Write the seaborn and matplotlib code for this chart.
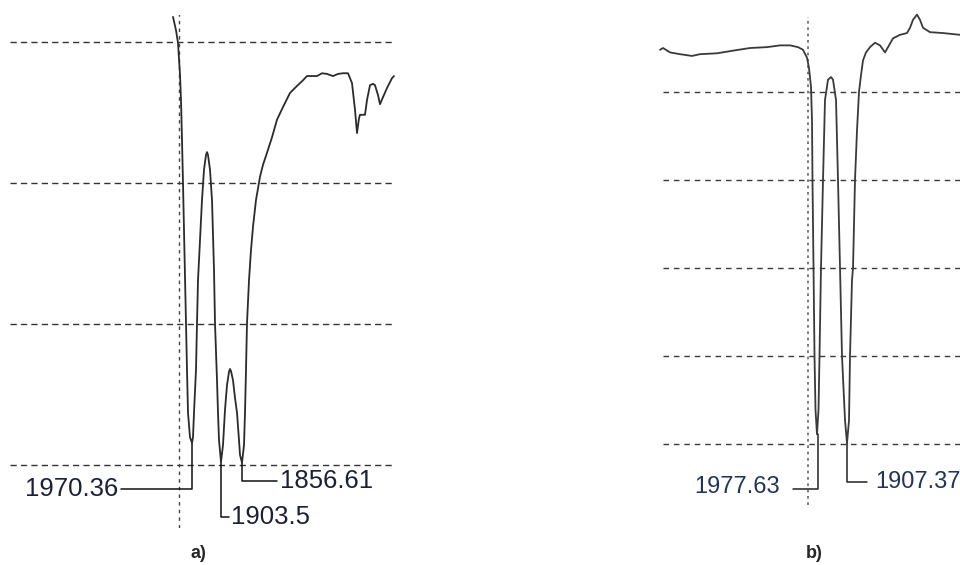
import numpy as np
import pandas as pd
import matplotlib
matplotlib.use("Agg")
import matplotlib.pyplot as plt
import seaborn as sns

sns.set_style("white")
plt.rcParams['font.family'] = ['Liberation Sans', 'DejaVu Sans']

# ---------------- Spectrum a) ----------------
wn_a = [2014.7, 2007.8, 2003.2, 1998.6, 1996.3, 1994.0, 1991.7, 1989.4, 1987.1, 1984.8,
        1982.5, 1980.2, 1975.6, 1971.0, 1968.7, 1966.4, 1961.8, 1959.5, 1957.2, 1952.6,
        1948.0, 1943.4, 1938.8, 1936.5, 1934.2, 1929.6, 1925.0, 1920.4, 1918.1, 1913.5,
        1911.2, 1908.9, 1904.3, 1899.7, 1895.1, 1890.5, 1885.9, 1883.6, 1881.3, 1876.7,
        1872.1, 1867.5, 1862.9, 1860.6, 1856.0, 1851.4, 1849.1, 1846.8, 1844.5, 1839.9,
        1835.3, 1830.7, 1823.8, 1814.6, 1807.7, 1798.5, 1787.0, 1775.5, 1761.7, 1745.6,
        1729.5, 1715.7, 1706.5, 1683.5, 1672.0, 1660.5, 1646.7, 1635.2, 1623.7, 1612.2,
        1603.0, 1596.1, 1591.5, 1586.9, 1584.6, 1573.1, 1568.5, 1561.6, 1554.7, 1550.1,
        1543.2, 1538.6, 1531.7, 1522.5, 1511.0, 1506.4]
tr_a = [83.6, 81.7, 79.9, 75.4, 71.8, 66.1, 60.0, 53.3, 46.7, 40.1,
        33.5, 27.4, 23.9, 23.1, 23.9, 27.4, 33.5, 40.1, 46.2, 51.9,
        57.6, 61.9, 64.0, 64.4, 64.0, 61.9, 57.6, 47.7, 40.1, 32.0,
        27.4, 23.5, 20.4, 22.8, 27.8, 31.3, 33.2, 33.6, 33.3, 32.0,
        29.5, 27.4, 23.5, 21.4, 20.3, 22.8, 27.4, 33.5, 40.1, 46.2,
        50.5, 53.8, 57.6, 60.9, 62.6, 64.3, 66.5, 69.0, 70.8, 72.8,
        73.8, 74.6, 75.2, 75.2, 75.6, 75.5, 75.2, 75.5, 75.6, 75.6,
        74.2, 70.4, 67.1, 69.2, 69.7, 69.7, 71.8, 73.9, 74.1, 73.9,
        72.5, 71.2, 72.2, 73.5, 74.9, 75.2]
grid_a = [20, 40, 60, 80]
peaks_a = ["1970.36", "1903.5", "1856.61"]
peak_wn_a = [1970.3, 1905.0, 1856.7]
peak_tr_a = [23.1, 20.4, 20.3]
marker_wn_a = 2000.9

# ---------------- Spectrum b) ----------------
wn_b = [2360.4, 2353.1, 2336.2, 2312.0, 2282.9, 2263.5, 2222.3, 2183.6, 2142.4, 2101.2,
        2069.7, 2045.5, 2026.1, 2014.0, 2004.3, 1999.4, 1994.6, 1992.2, 1991.0, 1988.5,
        1986.1, 1983.7, 1980.1, 1976.4, 1974.0, 1970.4, 1965.5, 1960.7, 1953.4, 1946.1,
        1941.3, 1934.0, 1929.2, 1924.3, 1919.5, 1912.2, 1907.4, 1902.5, 1900.1, 1895.3,
        1892.8, 1888.0, 1883.1, 1878.3, 1873.5, 1868.6, 1861.3, 1851.7, 1839.5, 1827.4,
        1815.3, 1808.0, 1795.9, 1779.0, 1762.0, 1754.7, 1747.5, 1737.8, 1730.5, 1723.2,
        1706.3, 1674.8, 1633.6]
tr_b = [94.8, 95.0, 94.5, 94.3, 94.1, 94.3, 94.4, 94.7, 95.0, 95.1,
        95.3, 95.3, 95.1, 94.8, 93.9, 92.7, 90.6, 86.8, 80.0, 70.0,
        60.0, 53.9, 51.1, 53.9, 60.0, 70.0, 80.0, 89.1, 91.4, 91.7,
        91.4, 89.1, 80.0, 70.0, 60.0, 52.7, 50.1, 52.7, 60.0, 68.6,
        70.0, 80.0, 85.7, 90.0, 91.9, 93.6, 94.5, 95.1, 95.6, 95.3,
        94.5, 95.1, 96.1, 96.5, 96.7, 97.3, 98.2, 98.8, 98.2, 97.3,
        96.8, 96.7, 96.5]
grid_b = [50, 60, 70, 80, 90]
peaks_b = ["1977.63", "1907.37"]
peak_wn_b = [1977.6, 1907.4]
peak_tr_b = [51.1, 50.1]
marker_wn_b = 2001.9

W, H = 960, 565
fig = plt.figure(figsize=(W / 100, H / 100), dpi=100)

def px_axes(x0, x1, y0, y1):
    return fig.add_axes([x0 / W, (H - y1) / H, (x1 - x0) / W, (y1 - y0) / H])

# ---------- panel a ----------
axa = px_axes(10, 395, 15, 528)
axa.set_xlim(2389.6, 1504.1)
axa.set_ylim(11.02, 83.87)
for g in grid_a:
    axa.axhline(g, color="#333333", lw=1.0, ls=(0, (4.5, 3)), zorder=1)
axa.plot([marker_wn_a, marker_wn_a], [11.0, 84], color="#444444", lw=1.0, ls=(0, (2.5, 3)), zorder=1)
dfa = pd.DataFrame({"wn": wn_a, "T": tr_a})
sns.lineplot(data=dfa, x="wn", y="T", ax=axa, color="#2b2b2b", lw=1.3,
             estimator=None, sort=False, zorder=3)
txt_a = "#1b2038"
axa.plot([peak_wn_a[0], peak_wn_a[0], 2134.3], [peak_tr_a[0], 16.6, 16.6], color="#111111", lw=1.1)
axa.text(2141, 16.6, peaks_a[0], ha="right", va="center", fontsize=18.5, color=txt_a)
axa.plot([peak_wn_a[1], peak_wn_a[1], 1885.9], [peak_tr_a[1], 12.6, 12.6], color="#111111", lw=1.1)
axa.text(1881.3, 12.6, peaks_a[1], ha="left", va="center", fontsize=18.5, color=txt_a, clip_on=True)
axa.plot([peak_wn_a[2], peak_wn_a[2], 1775.5], [peak_tr_a[2], 17.7, 17.7], color="#111111", lw=1.1)
axa.text(1768.6, 17.7, peaks_a[2], ha="left", va="center", fontsize=18.5, color=txt_a)
axa.set_axis_off()

# ---------- panel b ----------
axb = px_axes(658, 960, 10, 510)
axb.set_xlim(2365.3, 1633.6)
axb.set_ylim(42.5, 99.32)
for g in grid_b:
    axb.axhline(g, xmin=0.017, color="#3a3a3a", lw=1.0, ls=(0, (4, 3.5)), zorder=1)
axb.plot([marker_wn_b, marker_wn_b], [43.1, 98.5], color="#666666", lw=1.2, ls=(0, (1.6, 2.2)), zorder=1)
dfb = pd.DataFrame({"wn": wn_b, "T": tr_b})
sns.lineplot(data=dfb, x="wn", y="T", ax=axb, color="#3a3a3a", lw=1.3,
             estimator=None, sort=False, zorder=3)
txt_b = "#22345e"
axb.plot([peak_wn_b[0], peak_wn_b[0], 2038.2], [peak_tr_b[0], 44.9, 44.9], color="#222222", lw=1.1)
axb.text(2069.7, 45.1, peaks_b[0], ha="right", va="center", fontsize=17, color=txt_b)
axb.plot([peak_wn_b[1], peak_wn_b[1], 1858.9], [peak_tr_b[1], 45.7, 45.7], color="#222222", lw=1.1)
axb.text(1839.5, 45.7, peaks_b[1], ha="left", va="center", fontsize=17, color=txt_b, clip_on=False)
axb.set_axis_off()

fig.text(198 / W, 1 - 554 / H, "a)", ha="center", va="center", fontsize=13, fontweight="bold")
fig.text(814 / W, 1 - 554 / H, "b)", ha="center", va="center", fontsize=13, fontweight="bold")

fig.savefig("out.png", dpi=100)
